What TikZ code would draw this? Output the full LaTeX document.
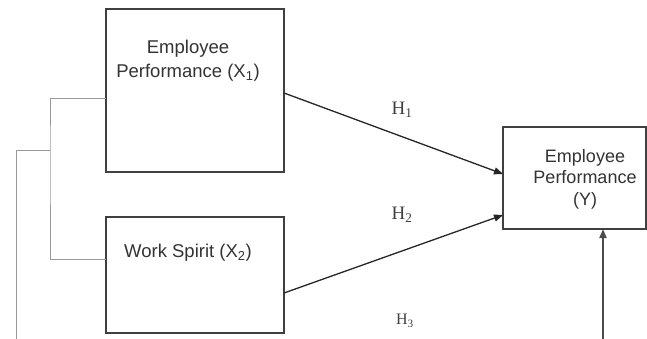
\documentclass[tikz,border=0pt]{standalone}
\usepackage{fontspec}
\setmainfont{Liberation Sans}
\newfontfamily\hfont{Liberation Serif}
\usetikzlibrary{arrows.meta}
\begin{document}
\begin{tikzpicture}[x=1pt,y=-1pt,
  box/.style={draw=black!75,line width=1.6pt,inner sep=0pt,fill=white},
  txt/.style={font=\fontsize{18.5}{24}\selectfont,text=black!80,align=center},
  hyp/.style={font=\hfont\fontsize{19}{22}\selectfont,text=black!75},
  arr/.style={line width=1.3pt,draw=black!85,-{Triangle[length=9pt,width=7pt]}},
  brk/.style={line width=1pt,draw=black!40}]
\useasboundingbox (0,0) rectangle (647,339);
% boxes
\draw[box] (106,9) rectangle (284,172);
\node[txt] (x1) at (188,61) {Employee\\Performance (X\textsubscript{1})};
\coordinate (x1e) at (284,93);
\coordinate (x1w) at (106,99);
\draw[box] (106,217) rectangle (284,333);
\node[txt] (x2) at (188,253) {Work Spirit (X\textsubscript{2})};
\coordinate (x2e) at (284,293);
\coordinate (x2w) at (106,259);
\draw[box] (503,127) rectangle (646,229);
\node[txt,font=\fontsize{18}{21.5}\selectfont] (y) at (585,179) {Employee\\Performance\\(Y)};
\coordinate (yw1) at (503,174);
\coordinate (yw2) at (503,215);
\coordinate (ys) at (603,229);
\coordinate (bot) at (603,339);
% arrows
\draw[arr] (x1e) -- (yw1);
\draw[arr] (x2e) -- (yw2);
\draw[arr,line width=1.8pt,draw=black!70] (bot) -- (ys);
% bracket
\coordinate (bj) at (50,151);
\draw[brk] (x1w) -| (bj) |- (x2w);
\coordinate (bl) at (16,339);
\draw[brk] (bj) -| (bl);
% labels
\node[hyp] (h1) at (402,110) {H\textsubscript{1}};
\node[hyp] (h2) at (402,215) {H\textsubscript{2}};
\node[hyp,font=\hfont\fontsize{16}{18}\selectfont] (h3) at (405,321) {H\textsubscript{3}};
\end{tikzpicture}
\end{document}
